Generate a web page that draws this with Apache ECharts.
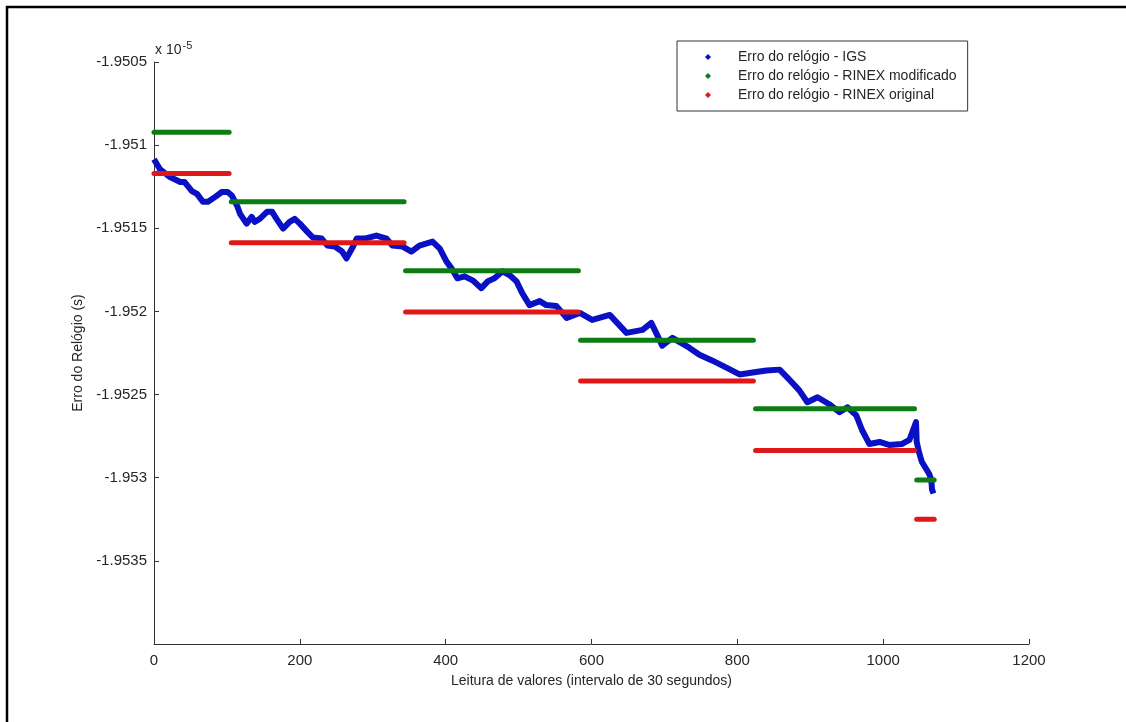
<!DOCTYPE html>
<html>
<head>
<meta charset="utf-8">
<script src="https://cdn.jsdelivr.net/npm/echarts@6/dist/echarts.min.js"></script>
<style>
html,body{margin:0;padding:0;background:#fff;}
#chart{width:1126px;height:722px;}
</style>
</head>
<body>
<div id="chart"></div>
<script>
// Data (clock error in units of 1e-5 s)
const igsX = [0,8,22,36,42,52,59,67,74,84,93,101,107,114,118,127,134,138,145,155,162,168,177,186,193,200,210,218,230,238,248,258,264,273,278,289,305,319,327,341,353,364,382,392,401,408,416,426,437,449,458,467,478,488,497,505,515,529,538,552,566,584,601,625,648,670,682,690,697,711,734,748,766,785,803,821,840,858,871,885,896,910,926,940,951,963,971,981,995,1008,1026,1036,1040,1045,1046,1049,1053,1063,1066,1067,1069];
const igsY = [-1.951085,-1.951144,-1.951192,-1.951222,-1.951222,-1.951276,-1.951293,-1.951341,-1.951341,-1.951311,-1.951282,-1.951282,-1.951305,-1.951365,-1.951413,-1.951472,-1.951431,-1.951461,-1.951443,-1.951401,-1.951401,-1.951443,-1.951502,-1.951461,-1.951443,-1.951472,-1.951520,-1.951556,-1.951562,-1.951604,-1.951610,-1.951640,-1.951681,-1.951610,-1.951562,-1.951562,-1.951544,-1.951562,-1.951604,-1.951610,-1.951640,-1.951604,-1.951580,-1.951622,-1.951699,-1.951741,-1.951801,-1.951789,-1.951813,-1.951860,-1.951818,-1.951801,-1.951759,-1.951783,-1.951818,-1.951890,-1.951962,-1.951938,-1.951962,-1.951968,-1.952039,-1.952009,-1.952051,-1.952021,-1.952129,-1.952111,-1.952069,-1.952141,-1.952206,-1.952159,-1.952218,-1.952260,-1.952296,-1.952338,-1.952379,-1.952367,-1.952355,-1.952350,-1.952409,-1.952475,-1.952546,-1.952516,-1.952558,-1.952606,-1.952576,-1.952624,-1.952713,-1.952797,-1.952785,-1.952803,-1.952797,-1.952773,-1.952725,-1.952666,-1.952785,-1.952845,-1.952904,-1.952976,-1.953012,-1.953071,-1.953095];
const segStart = [0,106,345,585,825,1046];
const segEnd = [103,343,582,822,1043,1070];
const modVals = [-1.950922,-1.951340,-1.951755,-1.952173,-1.952585,-1.953013];
const origVals = [-1.951171,-1.951587,-1.952004,-1.952418,-1.952836,-1.953250];
const xTicks = [0,200,400,600,800,1000,1200];
const yTicks = [-1.9505,-1.951,-1.9515,-1.952,-1.9525,-1.953,-1.9535];

const NAME_IGS = 'Erro do relógio - IGS';
const NAME_MOD = 'Erro do relógio - RINEX modificado';
const NAME_ORIG = 'Erro do relógio - RINEX original';
const C_IGS = '#0a10c4', C_MOD = '#0b7d12', C_ORIG = '#e01818';
const FONT = 'Liberation Sans, Arial, sans-serif';
const TXT = '#262626';

const series = [];
series.push({
  name: NAME_IGS, type: 'line', data: igsX.map((x,i)=>[x, igsY[i]]),
  showSymbol: false, symbol: 'diamond', lineStyle: {color: C_IGS, width: 6, join: 'round'},
  itemStyle: {color: C_IGS}, animation: false, z: 2
});
function segSeries(name, vals, color, z) {
  vals.forEach((v, i) => {
    series.push({
      name: name, type: 'line', data: [[segStart[i], v], [segEnd[i], v]],
      showSymbol: false, symbol: 'diamond', lineStyle: {color: color, width: 5, cap: 'round'},
      itemStyle: {color: color}, animation: false, z: z
    });
  });
}
segSeries(NAME_MOD, modVals, C_MOD, 3);
segSeries(NAME_ORIG, origVals, C_ORIG, 4);

const chart = echarts.init(document.getElementById('chart'), null, {renderer: 'canvas'});
chart.setOption({
  backgroundColor: '#fff',
  animation: false,
  grid: {left: 154, right: 97, top: 62, bottom: 78, containLabel: false},
  xAxis: {
    type: 'value', min: xTicks[0], max: xTicks[xTicks.length-1], interval: xTicks[1]-xTicks[0],
    name: 'Leitura de valores (intervalo de 30 segundos)', nameLocation: 'middle', nameGap: 30,
    nameTextStyle: {fontFamily: FONT, fontSize: 14, color: TXT},
    axisLine: {lineStyle: {color: '#333', width: 1}},
    axisTick: {inside: true, length: 5, lineStyle: {color: '#333'}},
    axisLabel: {fontFamily: FONT, fontSize: 15, color: TXT, margin: 9, formatter: v => String(v)},
    splitLine: {show: false}
  },
  yAxis: {
    type: 'value', min: -1.954, max: yTicks[0], interval: 0.0005,
    name: 'Erro do Relógio (s)', nameLocation: 'middle', nameGap: 68, nameRotate: 90,
    nameTextStyle: {fontFamily: FONT, fontSize: 14, color: TXT},
    axisLine: {lineStyle: {color: '#333', width: 1}},
    axisTick: {inside: true, length: 5, lineStyle: {color: '#333'}},
    axisLabel: {
      fontFamily: FONT, fontSize: 15, color: TXT, margin: 7, showMinLabel: false,
      formatter: v => {
        const r = Math.round(v*10000)/10000;
        return yTicks.some(t => Math.abs(t-r) < 1e-9) ? String(r) : '';
      }
    },
    splitLine: {show: false}
  },
  legend: {
    orient: 'vertical', left: 677, top: 41,
    padding: [9, 11, 9, 28], itemGap: 5, itemWidth: 6, itemHeight: 6,
    borderColor: '#333', borderWidth: 1, backgroundColor: '#fff',
    textStyle: {fontFamily: FONT, fontSize: 14, color: TXT, lineHeight: 14, padding: [0,0,0,22]},
    data: [
      {name: NAME_IGS, icon: 'diamond', itemStyle: {color: C_IGS}},
      {name: NAME_MOD, icon: 'diamond', itemStyle: {color: C_MOD}},
      {name: NAME_ORIG, icon: 'diamond', itemStyle: {color: C_ORIG}}
    ]
  },
  graphic: [
    {type: 'rect', shape: {x: 7, y: 7, width: 1140, height: 740}, style: {fill: 'none', stroke: '#000', lineWidth: 2.5}, silent: true},
    {type: 'text', left: 155, top: 40, style: {
      text: 'x 10{s|-5}', fontFamily: FONT, fontSize: 14, fill: TXT,
      rich: {s: {fontSize: 11, verticalAlign: 'top', padding: [0,0,10,1], fill: TXT}}
    }}
  ],
  series: series
});
</script>
</body>
</html>
